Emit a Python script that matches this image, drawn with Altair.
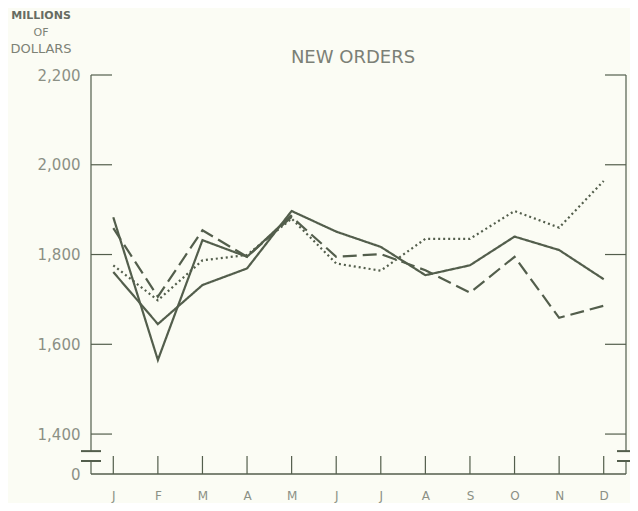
import altair as alt
import pandas as pd

# ---- data ----
month_letters = ["J", "F", "M", "A", "M", "J", "J", "A", "S", "O", "N", "D"]
month_idx = list(range(1, 13))

solid_partial = [1883, 1565, 1832, 1795, 1888]          # ends in May
solid_full = [1761, 1645, 1732, 1769, 1897, 1851, 1817, 1754, 1776, 1840, 1810, 1745]
dashed_vals = [1859, 1706, 1854, 1795, 1884, 1795, 1801, 1765, 1715, 1795, 1659, 1686]
dotted_vals = [1776, 1698, 1787, 1799, 1880, 1780, 1764, 1835, 1835, 1897, 1860, 1964]

y_tick_values = [1400, 1600, 1800, 2000, 2200]
AXIS_ZERO = 1311          # scale position drawn as "0" below the break
BREAK_HI = 1362
BREAK_LO = 1340
Y_TOP = 2200

chart_title = "NEW ORDERS"
unit_lines = ["MILLIONS", "OF", "DOLLARS"]

LINE = "#535e4c"
TEXT = "#8b9085"
FONT = "DejaVu Sans"

rows = []
for name, vals in [("a", solid_partial), ("b", solid_full), ("c", dashed_vals), ("d", dotted_vals)]:
    for i, v in enumerate(vals):
        rows.append({"m": month_idx[i], "v": v, "series": name})
df = pd.DataFrame(rows)

W, H = 535, 399

x_scale = alt.Scale(domain=[0.5, 12.5])
y_scale = alt.Scale(domain=[AXIS_ZERO, Y_TOP], zero=False, nice=False)

labels_js = "[" + ",".join("'%s'" % s for s in month_letters) + "]"

x_axis = alt.Axis(values=month_idx, labelExpr=labels_js + "[datum.value-1]",
                  domain=False, ticks=False, grid=False, title=None,
                  labelPadding=16, labelFontSize=12, labelColor=TEXT,
                  labelFont=FONT)
y_axis = alt.Axis(values=[AXIS_ZERO] + y_tick_values,
                  labelExpr="datum.value < 1350 ? '0' : format(datum.value, ',')",
                  domain=False, ticks=False, grid=False,
                  labelPadding=11, labelFontSize=15, labelColor=TEXT,
                  labelFont=FONT, title=None)


def Y(field):
    return alt.Y(field, scale=y_scale, axis=y_axis, title=None)


def X(field):
    return alt.X(field, scale=x_scale, axis=x_axis, title=None)


lines = alt.Chart(df).mark_line(strokeWidth=2.2).encode(
    x=X("m:Q"),
    y=Y("v:Q"),
    detail="series:N",
    strokeDash=alt.StrokeDash("series:N",
                              scale=alt.Scale(domain=["a", "b", "c", "d"],
                                              range=[[1, 0], [1, 0], [14, 6], [2, 3]]),
                              legend=None),
    color=alt.value(LINE),
)

yt = pd.DataFrame({"v": y_tick_values})
tick_left = alt.Chart(yt).mark_rule(color=LINE, strokeWidth=1.2).encode(
    y=Y("v:Q"), x=alt.value(0), x2=alt.value(21))
tick_right = alt.Chart(yt).mark_rule(color=LINE, strokeWidth=1.2).encode(
    y=Y("v:Q"), x=alt.value(W - 21), x2=alt.value(W))

segs = pd.DataFrame({"v": [Y_TOP, BREAK_LO], "v2": [BREAK_HI, AXIS_ZERO]})
frame_left = alt.Chart(segs).mark_rule(color=LINE, strokeWidth=1.2).encode(
    y=Y("v:Q"), y2="v2:Q", x=alt.value(0))
frame_right = alt.Chart(segs).mark_rule(color=LINE, strokeWidth=1.2).encode(
    y=Y("v:Q"), y2="v2:Q", x=alt.value(W))

base = pd.DataFrame({"v": [AXIS_ZERO]})
baseline = alt.Chart(base).mark_rule(color=LINE, strokeWidth=1.4).encode(
    y=Y("v:Q"), x=alt.value(0), x2=alt.value(W))

mt = pd.DataFrame({"m": month_idx})
month_ticks = alt.Chart(mt).mark_rule(color=LINE, strokeWidth=1.2).encode(
    x=X("m:Q"), y=alt.value(H - 18), y2=alt.value(H))

brk = pd.DataFrame({"v": [BREAK_HI, BREAK_LO]})
break_left = alt.Chart(brk).mark_rule(color=LINE, strokeWidth=2).encode(
    y=Y("v:Q"), x=alt.value(-10), x2=alt.value(10))
break_right = alt.Chart(brk).mark_rule(color=LINE, strokeWidth=2).encode(
    y=Y("v:Q"), x=alt.value(W - 9), x2=alt.value(W + 9))


def label(text, x, y, size, color, weight="normal"):
    d = pd.DataFrame({"t": [text]})
    return alt.Chart(d).mark_text(
        fontSize=size, font=FONT, color=color, fontWeight=weight,
        align="center", baseline="alphabetic"
    ).encode(text="t:N", x=alt.value(x), y=alt.value(y))


title_mark = label(chart_title, 262, -12, 18, "#7b8076")
unit_a = label(unit_lines[0], -50, -56, 11, "#666b61", "bold")
unit_b = label(unit_lines[1], -50, -39, 11, "#7d8276")
unit_c = label(unit_lines[2], -50, -22, 13, "#7d8276")

chart = alt.layer(
    lines, frame_left, frame_right, baseline, tick_left, tick_right, month_ticks,
    break_left, break_right, title_mark, unit_a, unit_b, unit_c
).properties(
    width=W, height=H,
    autosize=alt.AutoSizeParams(type="none"),
    padding={"left": 83, "top": 67, "right": 4, "bottom": 29},
).configure(background="#fbfcf4").configure_view(stroke="transparent", strokeWidth=0)

chart.save("out.html", embed_options={"renderer": "svg", "actions": False})
